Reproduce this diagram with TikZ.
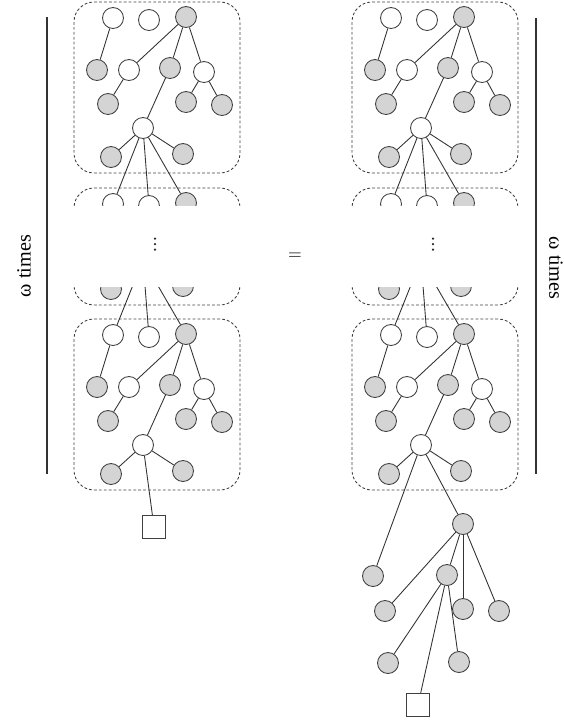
\documentclass[tikz,border=0pt]{standalone}
\usepackage{amsmath}
\usepackage{amsfonts}
\usepackage{fontspec}
\usepackage{tikz}
\usetikzlibrary{shapes.geometric}
\newfontfamily\labelfont{Liberation Serif}
\tikzstyle{wnode} = [circle, minimum size=0.42cm, inner sep=0pt, draw=black!75, line width=0.5pt, fill=white]
\tikzstyle{gnode} = [wnode, fill=black!17]
\tikzstyle{sink} = [rectangle, minimum size=0.46cm, inner sep=0pt, draw=black!75, line width=0.6pt, fill=white]
\tikzstyle{link} = [black!80, line width=0.5pt]
\tikzstyle{gadgetbox} = [black!75, line width=0.5pt, dash pattern=on 1.6pt off 1.2pt, rounded corners=0.4cm]
\tikzstyle{sideline} = [black!80, line width=0.6pt]
\tikzstyle{label} = [font=\labelfont\fontsize{11.5}{13}\selectfont]
\tikzstyle{vdot} = [circle, fill=black!85, inner sep=0pt, minimum size=0.05cm]

% one dashed gadget, names prefixed by #1
\newcommand{\gadget}[1]{
\draw [gadgetbox] (74,2) rectangle (240,173);
\node (#1n1) [wnode] at (113,18) {};
\node (#1n2) [wnode] at (149,20) {};
\node (#1n3) [gnode] at (186,17) {};
\node (#1n4) [gnode] at (97,70) {};
\node (#1n5) [wnode] at (129,70) {};
\node (#1n6) [gnode] at (170,68) {};
\node (#1n7) [wnode] at (204,72) {};
\node (#1n8) [gnode] at (108,104) {};
\node (#1n9) [gnode] at (186,102) {};
\node (#1n10) [gnode] at (222,105) {};
\node (#1n11) [wnode] at (143,128) {};
\node (#1n12) [gnode] at (111,157) {};
\node (#1n13) [gnode] at (183,154) {};
\draw [link] (#1n1) -- (#1n4);
\draw [link] (#1n3) -- (#1n5);
\draw [link] (#1n3) -- (#1n6);
\draw [link] (#1n3) -- (#1n7);
\draw [link] (#1n5) -- (#1n8);
\draw [link] (#1n7) -- (#1n9);
\draw [link] (#1n7) -- (#1n10);
\draw [link] (#1n6) -- (#1n11);
\draw [link] (#1n11) -- (#1n12);
\draw [link] (#1n11) -- (#1n13);
}

\begin{document}
\begin{tikzpicture}[x=0.02cm, y=-0.02cm]
\useasboundingbox (0,0) rectangle (564,721);

% left side
\begin{scope}
\gadget{la}
\end{scope}
\begin{scope}[shift={(0,317)}]
\gadget{lc}
\end{scope}
\begin{scope}
\clip (0,0) rectangle (564,205);
\begin{scope}[shift={(0,186)}]
\gadget{lt}
\end{scope}
\end{scope}
\begin{scope}
\clip (0,287) rectangle (564,721);
\begin{scope}[shift={(0,132)}]
\gadget{lb}
\end{scope}
\draw [link] (lbn11) -- (lcn1);
\draw [link] (lbn11) -- (lcn2);
\draw [link] (lbn11) -- (lcn3);
\end{scope}
\draw [link] (lan11) -- (ltn1);
\draw [link] (lan11) -- (ltn2);
\draw [link] (lan11) -- (ltn3);
\node (ldot1) [vdot] at (155,238.5) {};
\node (ldot2) [vdot] at (155,244) {};
\node (ldot3) [vdot] at (155,249.5) {};
\node (lsink) [sink] at (154,527) {};
\draw [link] (lcn11) -- (lsink);

% right side
\begin{scope}[shift={(278,0)}]
\gadget{ra}
\end{scope}
\begin{scope}[shift={(278,317)}]
\gadget{rc}
\end{scope}
\begin{scope}
\clip (0,0) rectangle (564,205);
\begin{scope}[shift={(278,186)}]
\gadget{rt}
\end{scope}
\end{scope}
\begin{scope}
\clip (0,287) rectangle (564,721);
\begin{scope}[shift={(278,132)}]
\gadget{rb}
\end{scope}
\draw [link] (rbn11) -- (rcn1);
\draw [link] (rbn11) -- (rcn2);
\draw [link] (rbn11) -- (rcn3);
\end{scope}
\draw [link] (ran11) -- (rtn1);
\draw [link] (ran11) -- (rtn2);
\draw [link] (ran11) -- (rtn3);
\node (rdot1) [vdot] at (433,238.5) {};
\node (rdot2) [vdot] at (433,244) {};
\node (rdot3) [vdot] at (433,249.5) {};

\node (t1) [gnode] at (463,524) {};
\node (t2) [gnode] at (373,576) {};
\node (t3) [gnode] at (447,575) {};
\node (t4) [gnode] at (385,611) {};
\node (t5) [gnode] at (463,609) {};
\node (t6) [gnode] at (499,611) {};
\node (t7) [gnode] at (388,663) {};
\node (t8) [gnode] at (459,662) {};
\node (rsink) [sink] at (418,705) {};
\draw [link] (rcn11) -- (t2);
\draw [link] (rcn11) -- (t1);
\draw [link] (t1) -- (t4);
\draw [link] (t1) -- (t3);
\draw [link] (t1) -- (t5);
\draw [link] (t1) -- (t6);
\draw [link] (t3) -- (t7);
\draw [link] (t3) -- (t8);
\draw [link] (t3) -- (rsink);

% brackets and labels
\coordinate (ltop) at (47,17);
\coordinate (lbot) at (47,474);
\coordinate (rtop) at (536,18);
\coordinate (rbot) at (536,474);
\draw [sideline] (ltop) -- (lbot);
\draw [sideline] (rtop) -- (rbot);
\node (ltimes) [label, rotate=90] at (24,266) {ω times};
\node (rtimes) [label, rotate=-90] at (556,268) {ω times};
\node (equals) at (295,256) {$=$};

\end{tikzpicture}
\end{document}
